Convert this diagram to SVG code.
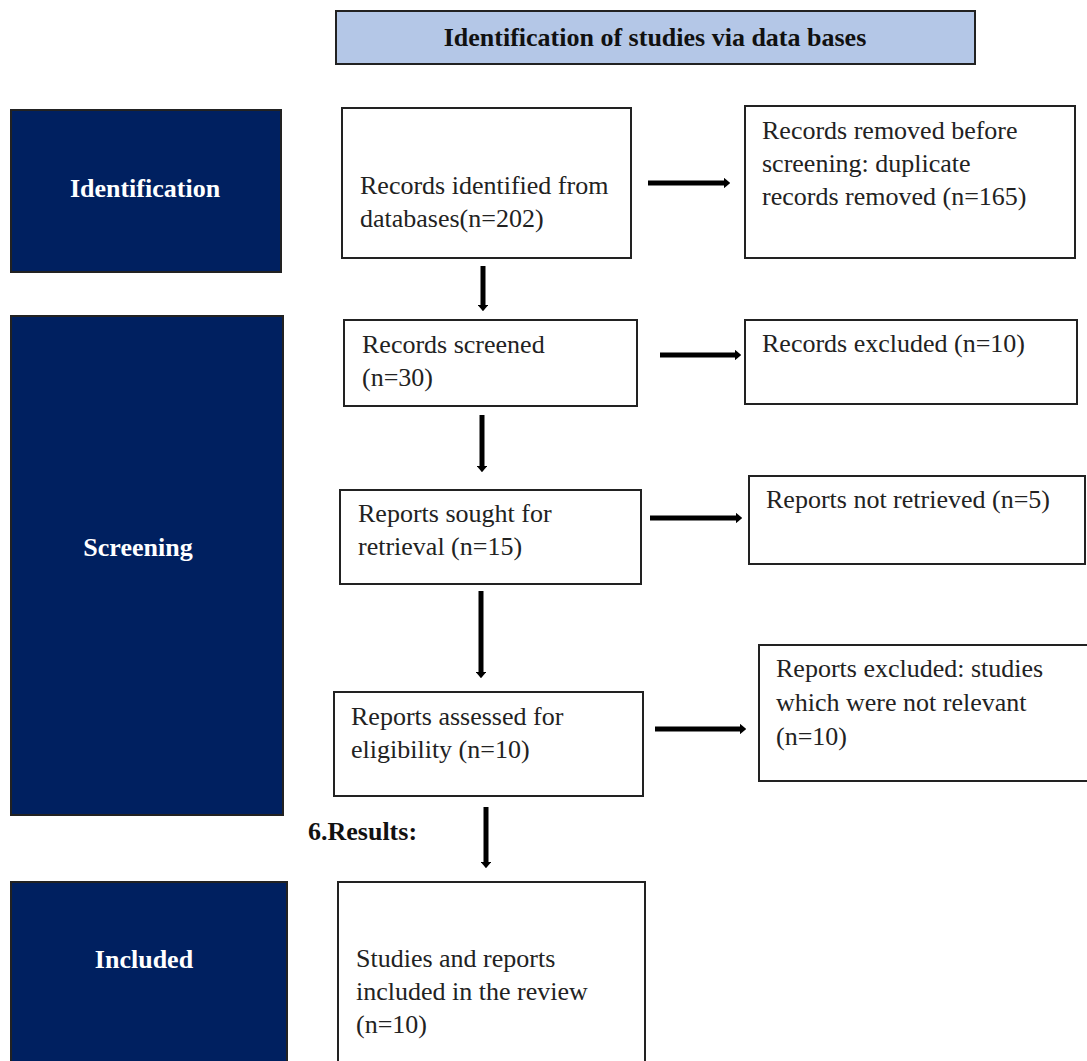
<svg xmlns="http://www.w3.org/2000/svg" width="1087" height="1061" viewBox="0 0 1087 1061" font-family="Liberation Serif">
<style>
.box{fill:#fff;stroke:#222;stroke-width:2}
.side{fill:#002060;stroke:#222;stroke-width:2}
.hdr{fill:#b4c7e7;stroke:#222;stroke-width:2}
.t{font-size:26px;fill:#222}
.b{font-size:26px;font-weight:bold;fill:#fff}
.hb{font-size:26px;font-weight:bold;fill:#111}
.ln{stroke:#000;stroke-width:5;fill:none}
</style>
<defs>
<marker id="ah" viewBox="0 0 6 10" refX="1" refY="5" markerWidth="1.3" markerHeight="2.1" orient="auto" markerUnits="strokeWidth">
<path d="M0,0 L6,5 L0,10 z" fill="#000"/>
</marker>
</defs>
<g id="header"><rect class="hdr" x="336" y="11" width="639" height="53"/><text class="hb" x="655" y="46" text-anchor="middle">Identification of studies via data bases</text></g>
<g id="identification"><rect class="side" x="11" y="110" width="270" height="162"/><text class="b" x="145" y="197" text-anchor="middle">Identification</text></g>
<g id="screening"><rect class="side" x="11" y="316" width="272" height="499"/><text class="b" x="138" y="556" text-anchor="middle">Screening</text></g>
<g id="included"><rect class="side" x="11" y="882" width="276" height="190"/><text class="b" x="144" y="968" text-anchor="middle">Included</text></g>
<g id="n1"><rect class="box" x="342" y="108" width="289" height="150"/><text class="t"><tspan x="360" y="194">Records identified from</tspan><tspan x="360" y="227">databases(n=202)</tspan></text></g>
<g id="n2"><rect class="box" x="745" y="106" width="330" height="152"/><text class="t"><tspan x="762" y="139">Records removed before</tspan><tspan x="762" y="172">screening: duplicate</tspan><tspan x="762" y="205">records removed (n=165)</tspan></text></g>
<g id="n3"><rect class="box" x="344" y="320" width="293" height="86"/><text class="t"><tspan x="362" y="353">Records screened</tspan><tspan x="362" y="386">(n=30)</tspan></text></g>
<g id="n4"><rect class="box" x="745" y="320" width="332" height="84"/><text class="t"><tspan x="762" y="352">Records excluded (n=10)</tspan></text></g>
<g id="n5"><rect class="box" x="340" y="490" width="301" height="94"/><text class="t"><tspan x="358" y="522">Reports sought for</tspan><tspan x="358" y="555">retrieval (n=15)</tspan></text></g>
<g id="n6"><rect class="box" x="749" y="476" width="336" height="88"/><text class="t"><tspan x="766" y="508">Reports not retrieved (n=5)</tspan></text></g>
<g id="n7"><rect class="box" x="334" y="692" width="309" height="104"/><text class="t"><tspan x="351" y="725">Reports assessed for</tspan><tspan x="351" y="758">eligibility (n=10)</tspan></text></g>
<g id="n8"><rect class="box" x="759" y="645" width="330" height="136"/><text class="t"><tspan x="776" y="677">Reports excluded: studies</tspan><tspan x="776" y="711">which were not relevant</tspan><tspan x="776" y="745">(n=10)</tspan></text></g>
<g id="n9"><rect class="box" x="338" y="882" width="307" height="190"/><text class="t"><tspan x="356" y="967">Studies and reports</tspan><tspan x="356" y="1000">included in the review</tspan><tspan x="356" y="1033">(n=10)</tspan></text></g>
<g id="results"><text class="hb" x="308" y="840">6.Results:</text></g>
<g id="connectors">
<line class="ln" x1="648" y1="183" x2="725" y2="183" marker-end="url(#ah)"/>
<line class="ln" x1="660" y1="355" x2="736" y2="355" marker-end="url(#ah)"/>
<line class="ln" x1="650" y1="518" x2="737" y2="518" marker-end="url(#ah)"/>
<line class="ln" x1="655" y1="729" x2="741" y2="729" marker-end="url(#ah)"/>
<line class="ln" x1="483" y1="266" x2="483" y2="306" marker-end="url(#ah)"/>
<line class="ln" x1="482" y1="415" x2="482" y2="467" marker-end="url(#ah)"/>
<line class="ln" x1="481" y1="591" x2="481" y2="673" marker-end="url(#ah)"/>
<line class="ln" x1="486" y1="807" x2="486" y2="863" marker-end="url(#ah)"/>
</g>
</svg>
